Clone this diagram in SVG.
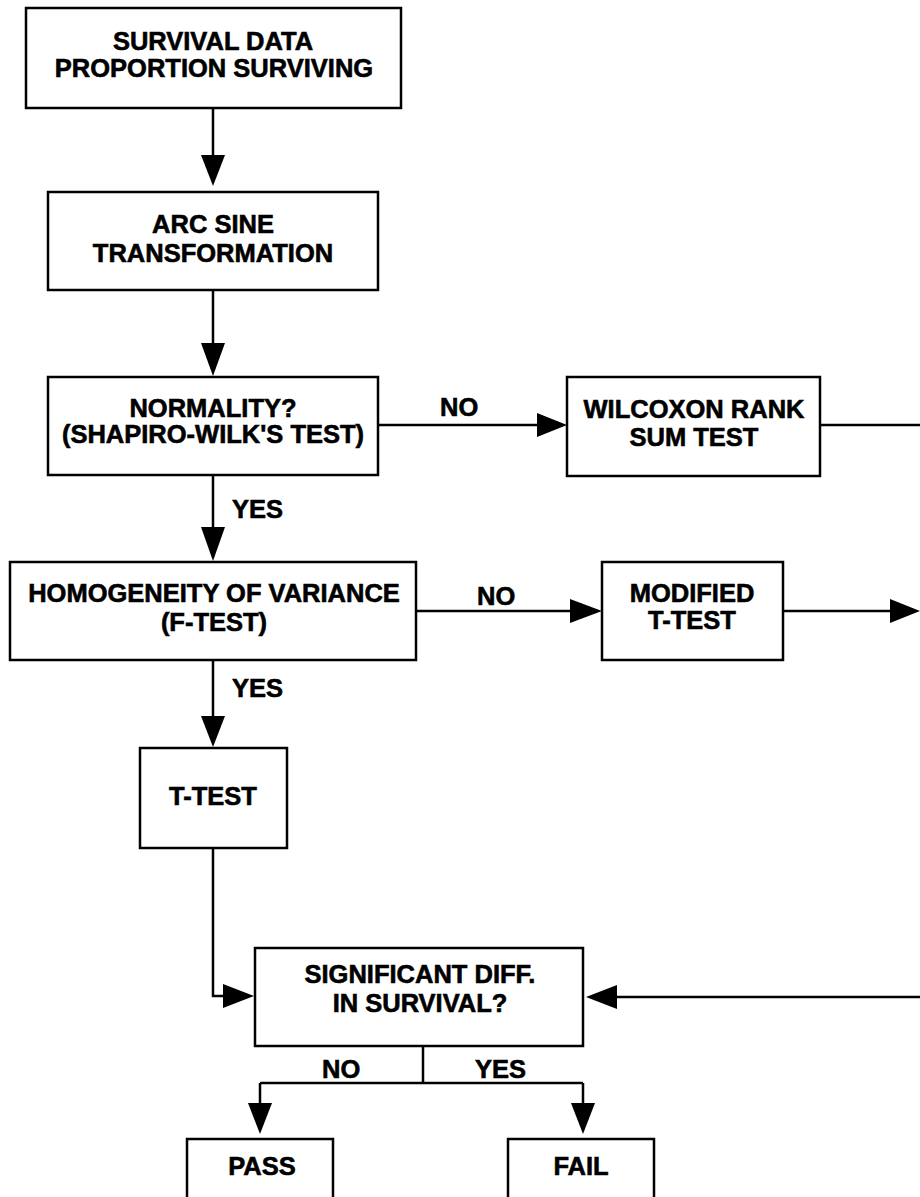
<svg xmlns="http://www.w3.org/2000/svg" width="920" height="1197" viewBox="0 0 920 1197">
<style>
.box{fill:#fff;stroke:#000;stroke-width:2.5}
.t{font-family:"Liberation Sans",Arial,sans-serif;font-weight:bold;font-size:25.5px;fill:#000;stroke:#000;stroke-width:0.6;text-anchor:middle}
.l{font-family:"Liberation Sans",Arial,sans-serif;font-weight:bold;font-size:25.5px;fill:#000;stroke:#000;stroke-width:0.6}
.c{fill:none;stroke:#000;stroke-width:2.5}
.ah{fill:#000;stroke:none}
</style>
<rect width="920" height="1197" fill="#fff"/>
<g id="connectors">
<path class="c" d="M213 108V160"/>
<polygon class="ah" points="201,155 225,155 213,186"/>
<path class="c" d="M213 290V348"/>
<polygon class="ah" points="201,343 225,343 213,376"/>
<path class="c" d="M378 425H540"/>
<polygon class="ah" points="537,413 537,437 567,425"/>
<path class="c" d="M820 425H920"/>
<path class="c" d="M213 475V530"/>
<polygon class="ah" points="201,527 225,527 213,561"/>
<path class="c" d="M416 611H574"/>
<polygon class="ah" points="570,599 570,623 602,611"/>
<path class="c" d="M783 611H894"/>
<polygon class="ah" points="890,599 890,623 920,611"/>
<path class="c" d="M213 660V720"/>
<polygon class="ah" points="201,716 225,716 213,747"/>
<path class="c" d="M213 848V996H226"/>
<polygon class="ah" points="223,984 223,1008 254,996"/>
<path class="c" d="M920 997H614"/>
<polygon class="ah" points="617,985 617,1009 586,997"/>
<path class="c" d="M423 1046V1083M260 1083H583M260 1083V1106M583 1083V1106"/>
<polygon class="ah" points="248,1103 272,1103 260,1134"/>
<polygon class="ah" points="571,1103 595,1103 583,1134"/>
<text class="l" x="440" y="416">NO</text>
<text class="l" x="232" y="518">YES</text>
<text class="l" x="477" y="605">NO</text>
<text class="l" x="232" y="697">YES</text>
<text class="l" x="322" y="1078">NO</text>
<text class="l" x="475" y="1078">YES</text>
</g>
<g id="survival-data">
<rect class="box" x="26" y="8" width="375" height="100"/>
<text class="t" x="213" y="50">SURVIVAL DATA</text>
<text class="t" x="214" y="77">PROPORTION SURVIVING</text>
</g>
<g id="arc-sine">
<rect class="box" x="48" y="192" width="330" height="98"/>
<text class="t" x="213" y="233">ARC SINE</text>
<text class="t" x="213" y="262">TRANSFORMATION</text>
</g>
<g id="normality">
<rect class="box" x="48" y="377" width="330" height="98"/>
<text class="t" x="213" y="417">NORMALITY?</text>
<text class="t" x="213" y="443">(SHAPIRO-WILK'S TEST)</text>
</g>
<g id="wilcoxon">
<rect class="box" x="567" y="377" width="253" height="99"/>
<text class="t" x="694" y="418">WILCOXON RANK</text>
<text class="t" x="694" y="446">SUM TEST</text>
</g>
<g id="homogeneity">
<rect class="box" x="10" y="562" width="406" height="98"/>
<text class="t" x="214" y="602">HOMOGENEITY OF VARIANCE</text>
<text class="t" x="214" y="631">(F-TEST)</text>
</g>
<g id="modified-t-test">
<rect class="box" x="602" y="562" width="181" height="98"/>
<text class="t" x="692" y="602">MODIFIED</text>
<text class="t" x="692" y="629">T-TEST</text>
</g>
<g id="t-test">
<rect class="box" x="140" y="748" width="147" height="100"/>
<text class="t" x="213" y="805">T-TEST</text>
</g>
<g id="significant">
<rect class="box" x="255" y="948" width="328" height="98"/>
<text class="t" x="420" y="983">SIGNIFICANT DIFF.</text>
<text class="t" x="420" y="1012">IN SURVIVAL?</text>
</g>
<g id="pass">
<rect class="box" x="187" y="1139" width="146" height="70"/>
<text class="t" x="262" y="1175">PASS</text>
</g>
<g id="fail">
<rect class="box" x="508" y="1139" width="146" height="70"/>
<text class="t" x="581" y="1175">FAIL</text>
</g>
</svg>
